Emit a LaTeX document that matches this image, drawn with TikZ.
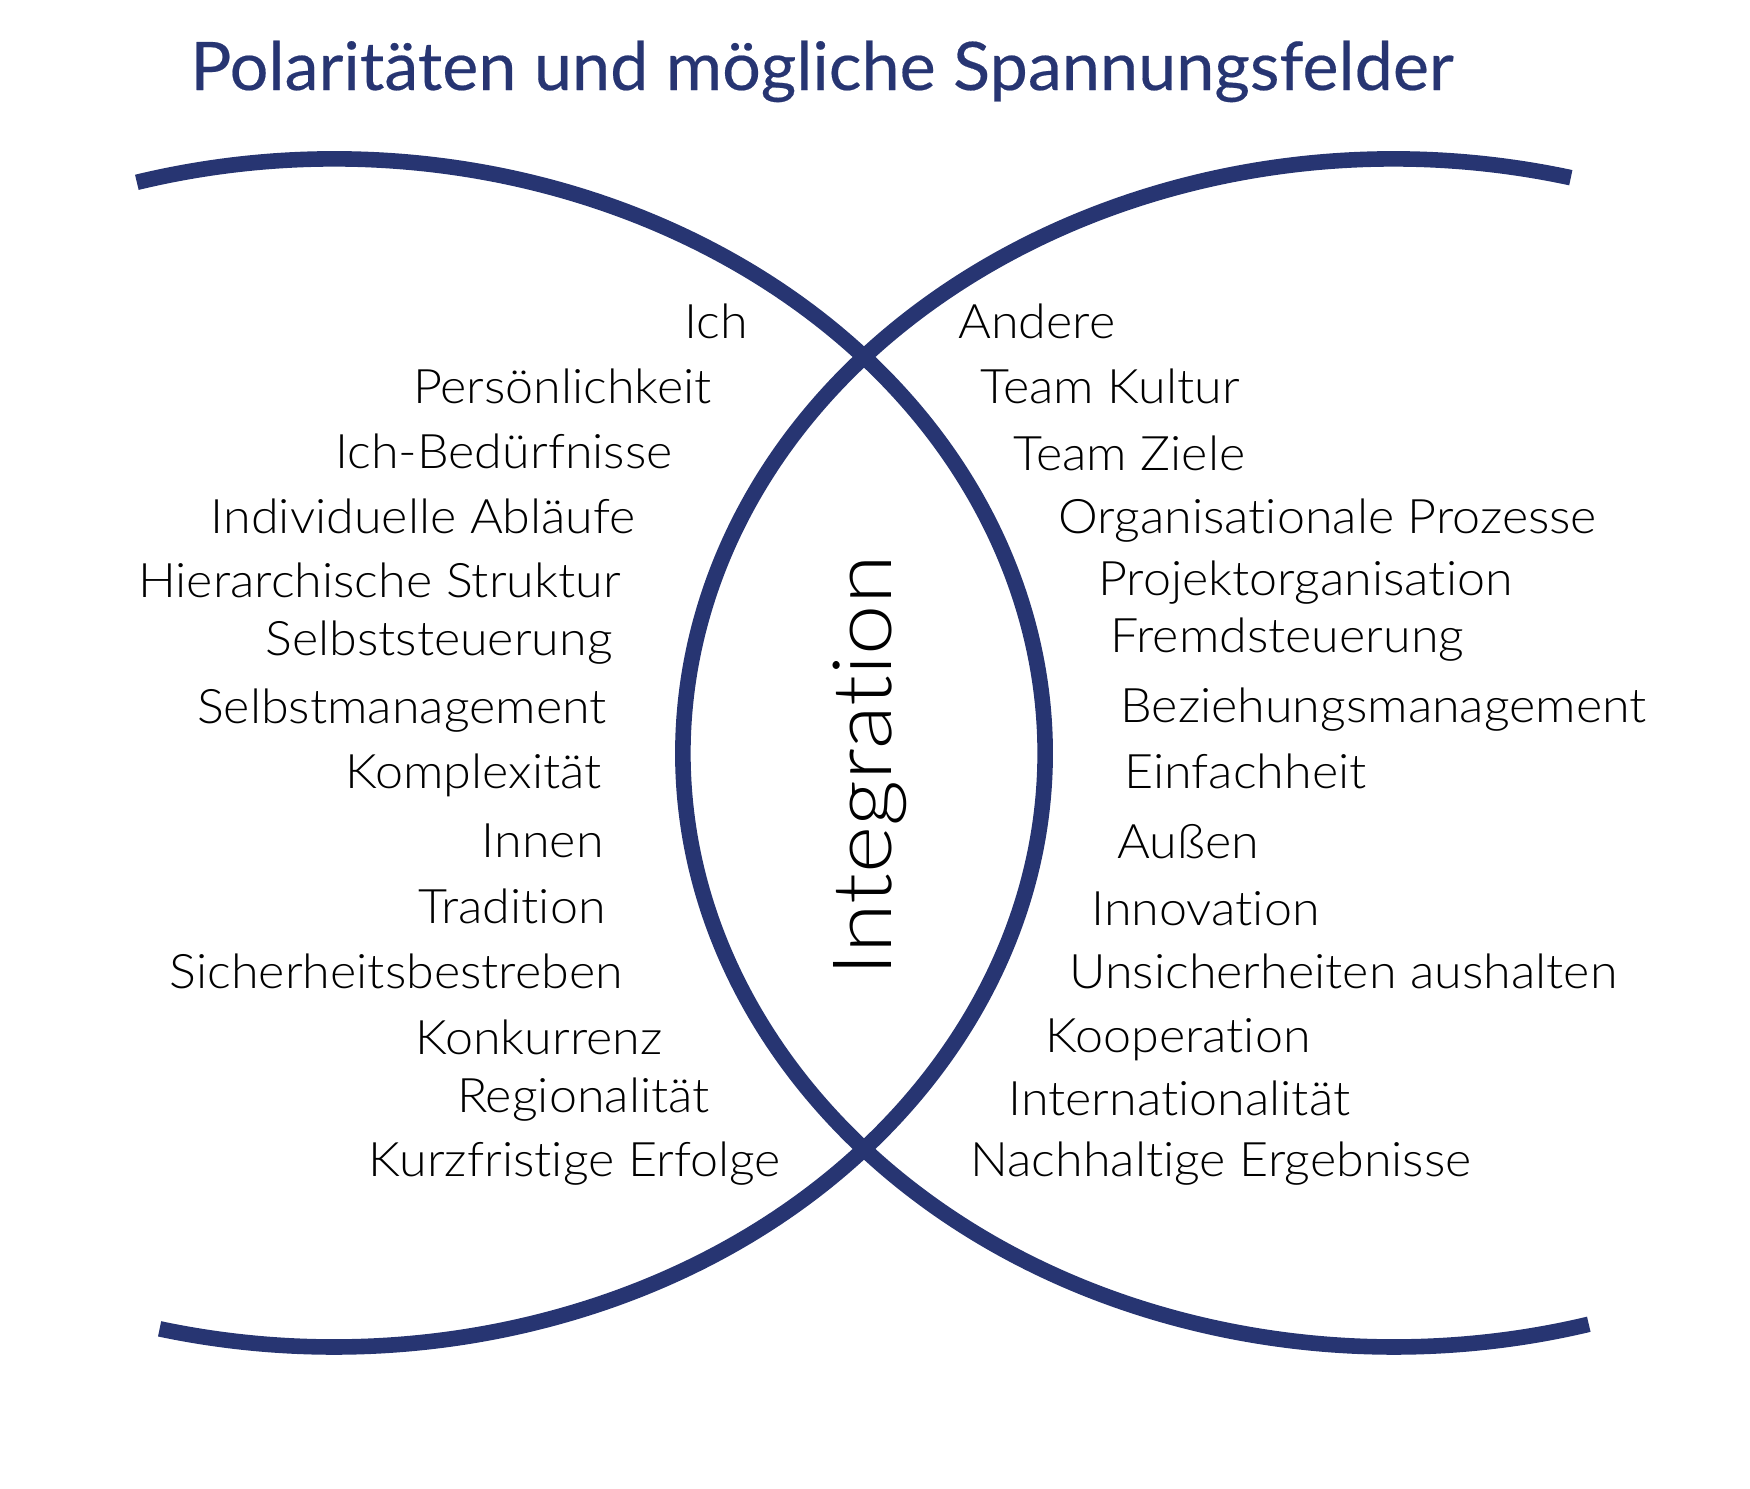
\documentclass[tikz,border=0pt]{standalone}
\usepackage{fontspec}
\setmainfont{Lato}[UprightFont={* Light}, FakeStretch=1.055, Ligatures=NoCommon]
\newfontfamily\titlefont{Lato}[FakeBold=0.3, FakeStretch=1.02, Ligatures=NoCommon]
\newfontfamily\integfont{Lato}[UprightFont={* Light}, FakeStretch=1.1, Ligatures=NoCommon]
\definecolor{navy}{RGB}{39,53,114}
\begin{document}
\begin{tikzpicture}[x=0.5pt,y=-0.5pt,
  lbl/.style={font=\fontsize{23.8}{28}\selectfont, inner sep=0pt, text=black},
  lft/.style={lbl, anchor=base east},
  rgt/.style={lbl, anchor=base west},
  arcline/.style={draw=navy, line width=7.8pt}]
\useasboundingbox (0,0) rectangle (1750,1488);
\node[font=\titlefont\fontsize{33.5}{40}\selectfont, text=navy, anchor=base west, inner sep=0pt] (title) at (190,90) {Polaritäten und mögliche Spannungsfelder};
\coordinate (cA) at (334,753);
\coordinate (cB) at (1394,753);
\draw[arcline] (cA) ++(106.1:355.5pt and 297pt) arc[start angle=106.1, end angle=-104.2, x radius=355.5pt, y radius=297pt];
\draw[arcline] (cB) ++(75.6:355.5pt and 297pt) arc[start angle=75.6, end angle=285.9, x radius=355.5pt, y radius=297pt];
\node[font=\integfont\fontsize{41}{48}\selectfont, rotate=90, anchor=base, inner sep=0pt] (integ) at (891,766) {Integration};
% left column
\node[lft] (l1) at (748,338) {Ich};
\node[lft] (l2) at (712,403) {Persönlichkeit};
\node[lft] (l3) at (673,468) {Ich-Bedürfnisse};
\node[lft] (l4) at (636,533) {Individuelle Abläufe};
\node[lft] (l5) at (621,597) {Hierarchische Struktur};
\node[lft] (l6) at (613,655) {Selbststeuerung};
\node[lft] (l7) at (607,723) {Selbstmanagement};
\node[lft] (l8) at (602,788) {Komplexität};
\node[lft] (l9) at (604,857) {Innen};
\node[lft] (l10) at (606,923) {Tradition};
\node[lft] (l11) at (623,988) {Sicherheitsbestreben};
\node[lft] (l12) at (663,1054) {Konkurrenz};
\node[lft] (l13) at (710,1112) {Regionalität};
\node[lft] (l14) at (781,1176) {Kurzfristige Erfolge};
% right column
\node[rgt] (r1) at (958,338) {Andere};
\node[rgt] (r2) at (980,403) {Team Kultur};
\node[rgt] (r3) at (1013,470) {Team Ziele};
\node[rgt] (r4) at (1058,533) {Organisationale Prozesse};
\node[rgt] (r5) at (1098,595) {Projektorganisation};
\node[rgt] (r6) at (1110,652) {Fremdsteuerung};
\node[rgt] (r7) at (1120,722) {Beziehungsmanagement};
\node[rgt] (r8) at (1124,788) {Einfachheit};
\node[rgt] (r9) at (1117,858) {Außen};
\node[rgt] (r10) at (1091,925) {Innovation};
\node[rgt] (r11) at (1069,988) {Unsicherheiten aushalten};
\node[rgt] (r12) at (1045,1052) {Kooperation};
\node[rgt] (r13) at (1008,1115) {Internationalität};
\node[rgt] (r14) at (970,1176) {Nachhaltige Ergebnisse};
\end{tikzpicture}
\end{document}
